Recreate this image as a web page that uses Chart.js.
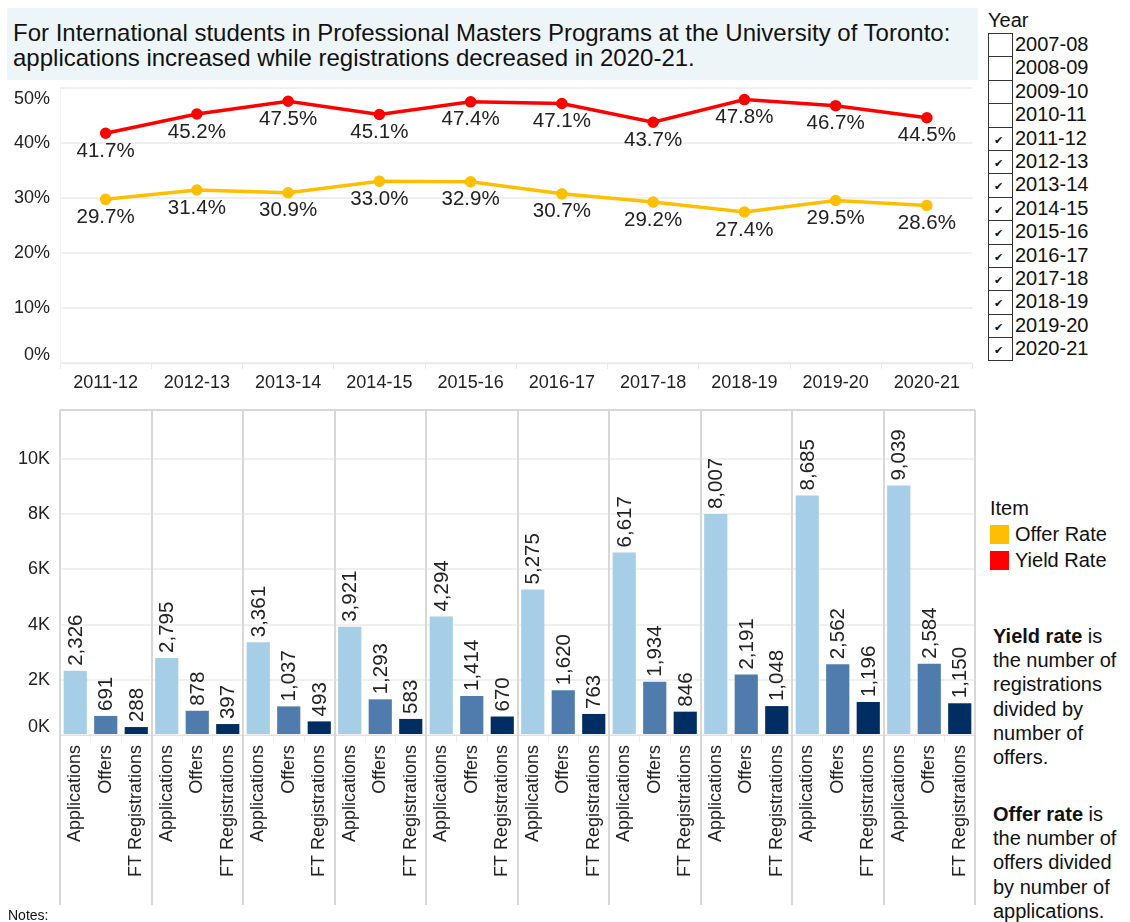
<!DOCTYPE html>
<html>
<head>
<meta charset="utf-8">
<script src="https://cdn.jsdelivr.net/npm/chart.js@4"></script>
<style>
    body { margin: 0; width: 1130px; height: 922px; overflow: hidden; background: #fff;
           font-family: "Liberation Sans", Arial, sans-serif; color: #111; position: relative; }
    .title { position: absolute; left: 7px; top: 8px; width: 965px; height: 60px; padding: 12px 0 0 6px;
             background: #eef5f9; font-size: 24px; line-height: 25px; white-space: nowrap; }
    #lineChart { position: absolute; left: 0; top: 80px; }
    #barChart { position: absolute; left: 0; top: 400px; }
    .year-legend { position: absolute; left: 988px; top: 8px; width: 140px; font-size: 20px; }
    .year-legend .head { height: 25px; line-height: 25px; }
    .row { height: 23.4px; line-height: 23px; position: relative; }
    .box { position: absolute; left: 0; top: 0; width: 23px; height: 22.4px; border: 1px solid #333;
           font-family: "DejaVu Sans", sans-serif; font-size: 11px; line-height: 26px; text-indent: 5px; }
    .row span.lbl { position: absolute; left: 27px; top: 0; white-space: nowrap; }
    .item-legend { position: absolute; left: 990px; top: 495px; width: 140px; font-size: 20px; }
    .item-legend .sw { display: inline-block; width: 19px; height: 19px; vertical-align: -3px; margin-right: 6px; }
    .item-legend div { height: 26px; line-height: 26px; white-space: nowrap; }
    .note { position: absolute; left: 993px; width: 140px; font-size: 20px; line-height: 24.2px; }
    .notes-label { position: absolute; left: 8px; top: 907px; font-size: 14px; }
</style>
</head>
<body>
<div class="title">For International students in Professional Masters Programs at the University of Toronto:<br>applications increased while registrations decreased in 2020-21.</div>

<canvas id="lineChart" width="980" height="315"></canvas>
<canvas id="barChart" width="980" height="522"></canvas>

<div class="year-legend" id="yearLegend"><div class="head">Year</div></div>

<div class="item-legend">
    <div>Item</div>
    <div><span class="sw" style="background:#ffbf00"></span>Offer Rate</div>
    <div><span class="sw" style="background:#ff0000"></span>Yield Rate</div>
</div>

<div class="note" style="top: 624px;"><b>Yield rate</b> is the number of registrations divided by number of offers.</div>
<div class="note" style="top: 802px;"><b>Offer rate</b> is the number of offers divided by number of applications.</div>
<div class="notes-label">Notes:</div>

<script>
// Data
const years = ['2011-12', '2012-13', '2013-14', '2014-15', '2015-16', '2016-17', '2017-18', '2018-19', '2019-20', '2020-21'];
const allYears = ['2007-08', '2008-09', '2009-10', '2010-11'].concat(years);
const offerRate = [29.7, 31.4, 30.9, 33.0, 32.9, 30.7, 29.2, 27.4, 29.5, 28.6];
const yieldRate = [41.7, 45.2, 47.5, 45.1, 47.4, 47.1, 43.7, 47.8, 46.7, 44.5];
const applications = [2326, 2795, 3361, 3921, 4294, 5275, 6617, 8007, 8685, 9039];
const offers = [691, 878, 1037, 1293, 1414, 1620, 1934, 2191, 2562, 2584];
const registrations = [288, 397, 493, 583, 670, 763, 846, 1048, 1196, 1150];
const items = ['Applications', 'Offers', 'FT Registrations'];
const itemColors = ['#a6cee6', '#4f7cac', '#002e62'];
const rateTicks = [0, 10, 20, 30, 40, 50];
const countTicks = [0, 2000, 4000, 6000, 8000, 10000];

const FONT = '"Liberation Sans", Arial, sans-serif';
Chart.defaults.font.family = FONT;
Chart.defaults.color = '#222';

// y tick labels, Tableau style: end labels are kept inside the pane
const yLabels = {
    id: 'yLabels',
    afterDraw(chart, args, opts) {
        const ctx = chart.ctx;
        const ys = chart.scales.y;
        const area = chart.chartArea;
        ctx.save();
        ctx.font = '18px ' + FONT;
        ctx.fillStyle = '#222';
        ctx.textAlign = 'right';
        ctx.textBaseline = 'middle';
        ys.ticks.forEach(t => {
            let y = ys.getPixelForValue(t.value);
            y = Math.max(area.top + 12, Math.min(area.bottom - 8, y));
            ctx.fillText(opts.format(t.value), area.left - 10, y);
        });
        ctx.restore();
    }
};

const Dashboard = {
    charts: {},

    init() {
        this.buildYearLegend();
        this.initLineChart();
        this.initBarChart();
    },

    buildYearLegend() {
        const legend = document.getElementById('yearLegend');
        allYears.forEach(y => {
            const row = document.createElement('div');
            row.className = 'row';
            const checked = years.includes(y);
            row.innerHTML = `<span class="box">${checked ? '\u2714' : ''}</span><span class="lbl">${y}</span>`;
            legend.appendChild(row);
        });
    },

    initLineChart() {
        // labels under each point
        const pointLabels = {
            id: 'pointLabels',
            afterDatasetsDraw(chart) {
                const ctx = chart.ctx;
                ctx.save();
                ctx.font = '20.5px ' + FONT;
                ctx.fillStyle = '#222';
                ctx.textAlign = 'center';
                ctx.textBaseline = 'middle';
                chart.data.datasets.forEach((ds, i) => {
                    chart.getDatasetMeta(i).data.forEach((pt, j) => {
                        ctx.fillText(ds.data[j].toFixed(1) + '%', pt.x, pt.y + 18);
                    });
                });
                ctx.restore();
            }
        };

        this.charts.line = new Chart(document.getElementById('lineChart').getContext('2d'), {
            type: 'line',
            data: {
                labels: years,
                datasets: [
                    { label: 'Offer Rate', data: offerRate, borderColor: '#ffbf00', backgroundColor: '#ffbf00',
                      borderWidth: 3.5, pointRadius: 4, tension: 0 },
                    { label: 'Yield Rate', data: yieldRate, borderColor: '#ff0000', backgroundColor: '#ff0000',
                      borderWidth: 3.5, pointRadius: 4, tension: 0 }
                ]
            },
            options: {
                responsive: false,
                animation: false,
                devicePixelRatio: 1,
                layout: { padding: { top: 5, right: 5, left: 0, bottom: 0 } },
                plugins: {
                    legend: { display: false },
                    tooltip: { enabled: false },
                    yLabels: { format: v => v + '%' }
                },
                scales: {
                    x: {
                        offset: true,
                        grid: { offset: true, drawOnChartArea: false, tickLength: 6, color: '#e8e8e8' },
                        border: { color: '#e8e8e8', dash: [3, 2] },
                        ticks: { font: { size: 18 }, color: '#222', padding: 3 },
                        afterFit(scale) { scale.height = 32; scale.paddingLeft = 0; scale.paddingRight = 0; }
                    },
                    y: {
                        min: 0,
                        max: 50,
                        ticks: { display: false },
                        afterBuildTicks(scale) { scale.ticks = rateTicks.map(v => ({ value: v })); },
                        grid: { color: '#efefef', lineWidth: 2, drawTicks: false },
                        border: { display: true, color: '#efefef' },
                        afterFit(scale) { scale.width = 60; scale.paddingTop = 0; scale.paddingBottom = 0; }
                    }
                }
            },
            plugins: [pointLabels, yLabels]
        });
    },

    initBarChart() {
        const labels = [];
        const values = [];
        const colors = [];
        years.forEach((y, i) => {
            [applications[i], offers[i], registrations[i]].forEach((v, k) => {
                labels.push(items[k]);
                values.push(v);
                colors.push(itemColors[k]);
            });
        });

        // rotated value labels above each bar
        const barLabels = {
            id: 'barLabels',
            afterDatasetsDraw(chart) {
                const ctx = chart.ctx;
                ctx.save();
                ctx.font = '20.5px ' + FONT;
                ctx.fillStyle = '#222';
                ctx.textAlign = 'left';
                ctx.textBaseline = 'middle';
                chart.getDatasetMeta(0).data.forEach((bar, j) => {
                    ctx.save();
                    ctx.translate(bar.x, bar.y - 5);
                    ctx.rotate(-Math.PI / 2);
                    ctx.fillText(values[j].toLocaleString('en-US'), 0, 1);
                    ctx.restore();
                });
                ctx.restore();
            }
        };

        // year pane separators, running down through the label area
        const paneLines = {
            id: 'paneLines',
            afterDraw(chart) {
                const ctx = chart.ctx;
                const xs = chart.scales.x;
                const area = chart.chartArea;
                ctx.save();
                ctx.strokeStyle = '#d8d8d8';
                ctx.lineWidth = 2;
                ctx.beginPath();
                ctx.moveTo(area.left, area.top);
                ctx.lineTo(area.right, area.top);
                for (let i = 0; i <= labels.length; i += 3) {
                    const x = Math.round(xs.getPixelForValue(i - 0.5));
                    ctx.moveTo(x, area.top);
                    ctx.lineTo(x, chart.height - 17);
                }
                ctx.stroke();
                ctx.restore();
            }
        };

        this.charts.bar = new Chart(document.getElementById('barChart').getContext('2d'), {
            type: 'bar',
            data: {
                labels: labels,
                datasets: [{ label: 'Value', data: values, backgroundColor: colors,
                             barPercentage: 0.76, categoryPercentage: 1 }]
            },
            options: {
                responsive: false,
                animation: false,
                devicePixelRatio: 1,
                layout: { padding: { top: 10, right: 5, left: 0, bottom: 0 } },
                plugins: {
                    legend: { display: false },
                    tooltip: { enabled: false },
                    yLabels: { format: v => (v / 1000) + 'K' }
                },
                scales: {
                    x: {
                        grid: { drawOnChartArea: false, tickLength: 8, color: '#eeeeee' },
                        border: { color: '#e0e0e0' },
                        ticks: { autoSkip: false, minRotation: 90, maxRotation: 90, font: { size: 18 },
                                 color: '#222', padding: 2 },
                        afterFit(scale) { scale.height = 187; scale.paddingLeft = 0; scale.paddingRight = 0; }
                    },
                    y: {
                        min: 0,
                        max: 11780,
                        ticks: { display: false },
                        afterBuildTicks(scale) { scale.ticks = countTicks.map(v => ({ value: v })); },
                        grid: { color: '#f0f0f0', lineWidth: 2, drawTicks: false },
                        border: { display: false },
                        afterFit(scale) { scale.width = 60; scale.paddingTop = 0; scale.paddingBottom = 0; }
                    }
                }
            },
            plugins: [barLabels, paneLines, yLabels]
        });
    }
};

Dashboard.init();
</script>
</body>
</html>
